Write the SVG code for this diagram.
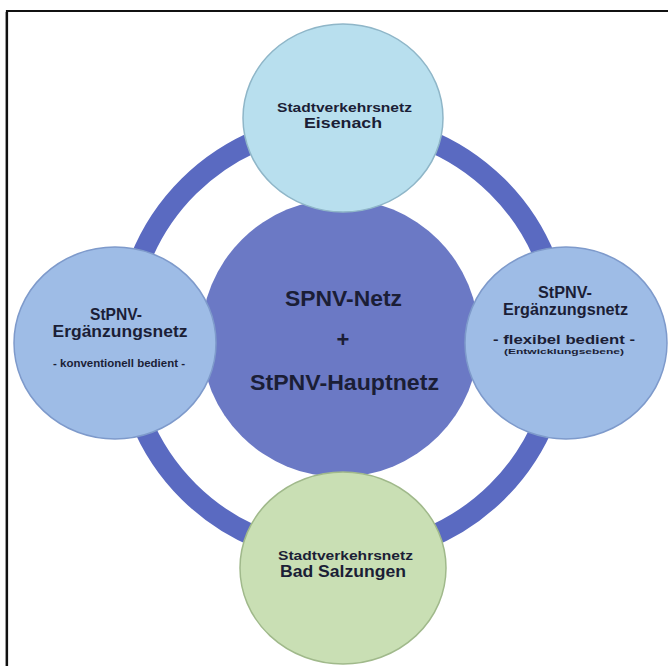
<svg xmlns="http://www.w3.org/2000/svg" width="668" height="666" viewBox="0 0 668 666">
<style>
.t{font-family:"Liberation Sans",Arial,sans-serif;font-weight:bold;fill:#1b1e36;text-anchor:middle}
.sat{stroke-width:1.5}
.cyan{fill:#b8dfee;stroke:#8fb6c8}
.blue{fill:#9ebce6;stroke:#7e9acb}
.green{fill:#c9dfb4;stroke:#a0b98b}
</style>
<rect x="0" y="0" width="668" height="666" fill="#ffffff"/>
<path d="M7 666 V11 H668" fill="none" stroke="#111111" stroke-width="2.2"/>
<line x1="5.5" y1="12" x2="5.5" y2="666" stroke="#9a9a9a" stroke-width="1"/>
<g id="connectors">
<ellipse cx="343" cy="339" rx="218" ry="216" fill="none" stroke="#5a6ac1" stroke-width="21"/>
</g>
<g id="center">
<circle cx="340" cy="338" r="139" fill="#6b79c5"/>
<text class="t" x="343.5" y="306" font-size="22" textLength="117" lengthAdjust="spacingAndGlyphs">SPNV-Netz</text>
<text class="t" x="343" y="347" font-size="22">+</text>
<text class="t" x="344.5" y="390" font-size="22" textLength="189" lengthAdjust="spacingAndGlyphs">StPNV-Hauptnetz</text>
</g>
<g id="top">
<ellipse class="sat cyan" cx="343" cy="118" rx="100" ry="94"/>
<text class="t" x="344.5" y="112" font-size="12.5" textLength="135" lengthAdjust="spacingAndGlyphs">Stadtverkehrsnetz</text>
<text class="t" x="343" y="128" font-size="15.5" textLength="78" lengthAdjust="spacingAndGlyphs">Eisenach</text>
</g>
<g id="left">
<ellipse class="sat blue" cx="115" cy="343" rx="101" ry="96"/>
<text class="t" x="116" y="320" font-size="16.5" textLength="52" lengthAdjust="spacingAndGlyphs">StPNV-</text>
<text class="t" x="120" y="337" font-size="17" textLength="135" lengthAdjust="spacingAndGlyphs">Ergänzungsnetz</text>
<text class="t" x="119" y="367" font-size="10" textLength="132" lengthAdjust="spacingAndGlyphs">- konventionell bedient -</text>
</g>
<g id="right">
<ellipse class="sat blue" cx="566" cy="343" rx="101" ry="96"/>
<text class="t" x="565" y="298" font-size="16" textLength="54" lengthAdjust="spacingAndGlyphs">StPNV-</text>
<text class="t" x="565.5" y="315" font-size="16" textLength="125" lengthAdjust="spacingAndGlyphs">Ergänzungsnetz</text>
<text class="t" x="564" y="344" font-size="12.5" textLength="142" lengthAdjust="spacingAndGlyphs">- flexibel bedient -</text>
<text class="t" x="564" y="354" font-size="8" textLength="120" lengthAdjust="spacingAndGlyphs">(Entwicklungsebene)</text>
</g>
<g id="bottom">
<ellipse class="sat green" cx="343" cy="568" rx="103" ry="96"/>
<text class="t" x="345.5" y="560" font-size="13.5" textLength="135" lengthAdjust="spacingAndGlyphs">Stadtverkehrsnetz</text>
<text class="t" x="343" y="577" font-size="16.5" textLength="126" lengthAdjust="spacingAndGlyphs">Bad Salzungen</text>
</g>
</svg>
